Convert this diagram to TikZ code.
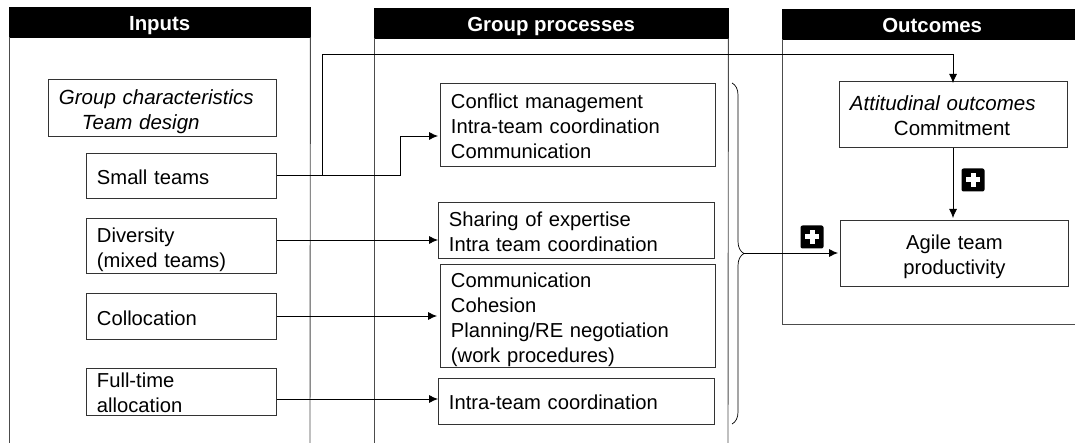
\documentclass[tikz,border=0pt]{standalone}
\usepackage{fontspec}
\setmainfont{Liberation Sans}
\usetikzlibrary{arrows.meta,decorations.pathreplacing}

\newcommand{\slanted}{\fontsize{20.5}{25}\selectfont\itshape}

\tikzset{
panel/.style={draw=black!70, line width=0.9pt},
header/.style={fill=black, draw=black, text=white, anchor=north west, inner sep=0pt,
	text height=18pt, text depth=2pt,
	font=\fontsize{20.4}{24}\selectfont\bfseries, align=center},
itembox/.style={draw=black!80, line width=0.9pt, anchor=north west, inner xsep=10.5pt, inner ysep=0pt,
	font=\fontsize{20.2}{25}\selectfont, align=left},
link/.style={draw=black, line width=0.8pt, -{Latex[length=9pt,width=8pt]}},
plusbox/.style={fill=black, rounded corners=2pt, minimum size=23pt, inner sep=0pt,
	path picture={
	\draw[white, line width=5pt] (path picture bounding box.center) +(-7pt,0) -- +(7pt,0);
	\draw[white, line width=5pt] (path picture bounding box.center) +(0,-7pt) -- +(0,7pt);}}
}

\begin{document}
\begin{tikzpicture}[x=1pt,y=-1pt]
%\draw[help lines] (0,0) grid (1075,443);
\useasboundingbox (0,0) rectangle (1075,443);

% panels
\node[header, minimum width=301pt, minimum height=30pt] (inputs) at (9,7) {Inputs};
\node[header, minimum width=354pt, minimum height=30pt] (processes) at (374,8) {Group processes};
\node[header, minimum width=300pt, minimum height=30pt] (outcomes) at (782,9) {Outcomes};
\coordinate (outcomes-corner) at (782,324);
\coordinate (outcomes-end) at (1075,324);

\draw[panel] (inputs.south west) -- (9,443);
\draw[panel] (inputs.south east) -- (310,443);
\draw[panel] (processes.south west) -- (374,443);
\draw[panel] (processes.south east) -- (728,443);
\draw[panel] (outcomes.south west) -- (outcomes-corner) -- (outcomes-end);

% inputs
\node[itembox, text width=207pt, minimum height=57pt, text height=18pt, text depth=24.4pt] (characteristics) at (48,79)
	{\slanted Group characteristics\\\slanted\hspace{23pt}Team design};
\node[itembox, text width=169pt, minimum height=45pt, text height=16.4pt, text depth=0pt] (small) at (86,153) {Small teams};
\node[itembox, text width=169pt, minimum height=55pt, text height=16pt, text depth=23pt] (diversity) at (86,218) {Diversity\\(mixed teams)};
\node[itembox, text width=169pt, minimum height=46pt, text height=17.4pt, text depth=0pt] (collocation) at (86,293) {Collocation};
\node[itembox, text width=169pt, minimum height=47pt, text height=14pt, text depth=23pt] (fulltime) at (86,368) {Full-time\\allocation};

% processes
\node[itembox, text width=254pt, minimum height=83pt, text height=14pt, text depth=47pt] (conflict) at (440,83)
	{Conflict management\\Intra-team coordination\\Communication};
\node[itembox, text width=255pt, minimum height=56pt, text height=15pt, text depth=22.4pt] (sharing) at (438,202)
	{Sharing of expertise\\Intra team coordination};
\node[itembox, text width=254pt, minimum height=103pt, text height=14pt, text depth=71pt] (cohesion) at (440,264)
	{Communication\\Cohesion\\Planning/RE negotiation\\(work procedures)};
\node[itembox, text width=255pt, minimum height=46pt, text height=16pt, text depth=0pt] (intra) at (438,378) {Intra-team coordination};

% outcomes
\node[itembox, text width=207pt, minimum height=66pt, text height=16pt, text depth=23.4pt] (attitudinal) at (839,81)
	{\slanted Attitudinal outcomes\\\upshape\hspace{44pt}Commitment};
\node[itembox, text width=207pt, minimum height=66pt, text height=15pt, text depth=23.6pt, align=center] (agile) at (840,220)
	{Agile team\\productivity};

\node[plusbox] (plus-inner) at (973,180) {};
\node[plusbox] (plus-outer) at (812,237) {};

% connectors
\coordinate (small-turn) at (400,175);
\coordinate (branch) at (322,175);
\coordinate (branch-top) at (322,54);
\coordinate (brace-top) at (732,83);
\coordinate (brace-bottom) at (732,424);
\coordinate (brace-tip) at (744,253);

\draw[link] (small.east |- small-turn) -- (small-turn) |- ([xshift=-2pt]conflict.west |- 0,136);
\draw[link] (branch) -- (branch-top) -| ([yshift=-2pt]attitudinal.north -| 953,0);
\draw[link] (diversity.east |- 0,240) -- (sharing.west |- 0,240);
\draw[link] (collocation.east |- 0,316) -- ([xshift=-3pt]cohesion.west |- 0,316);
\draw[link] (fulltime.east |- 0,399) -- (intra.west |- 0,399);
\draw[link] (attitudinal.south -| 953,0) -- ([yshift=2pt]agile.north -| 953,0);

\draw[line width=0.7pt, decorate, decoration={brace, amplitude=12pt}] (brace-top) -- (brace-bottom);
\draw[link] (brace-tip) -- ([xshift=-2pt]agile.west |- brace-tip);
\end{tikzpicture}
\end{document}
